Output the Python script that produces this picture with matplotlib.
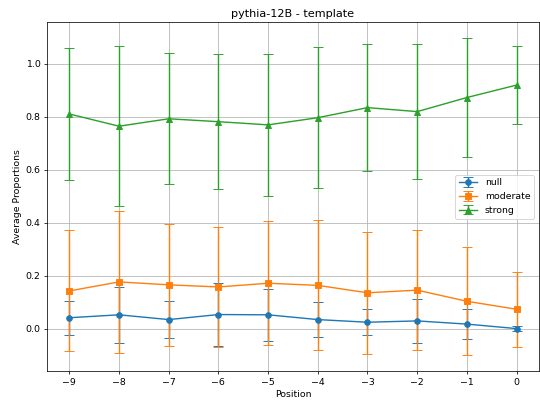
import numpy as np
import matplotlib
matplotlib.use("Agg")
import matplotlib.pyplot as plt

# Positions relative to the target token
positions = [-9, -8, -7, -6, -5, -4, -3, -2, -1, 0]

# Average proportions (means) and error bar half-widths
null_mean = [0.042, 0.053, 0.035, 0.054, 0.053, 0.035, 0.025, 0.030, 0.018, 0.001]
null_err = [0.064, 0.105, 0.069, 0.118, 0.098, 0.066, 0.050, 0.083, 0.056, 0.008]

moderate_mean = [0.143, 0.177, 0.166, 0.158, 0.172, 0.164, 0.136, 0.146, 0.104, 0.074]
moderate_err = [0.228, 0.269, 0.229, 0.226, 0.234, 0.245, 0.231, 0.227, 0.203, 0.142]

strong_mean = [0.810, 0.764, 0.792, 0.781, 0.769, 0.796, 0.834, 0.819, 0.872, 0.919]
strong_err = [0.250, 0.302, 0.247, 0.255, 0.269, 0.266, 0.238, 0.255, 0.224, 0.148]

series = [
    ("null", null_mean, null_err, "o"),
    ("moderate", moderate_mean, moderate_err, "s"),
    ("strong", strong_mean, strong_err, "^"),
]

fig, ax = plt.subplots(figsize=(8, 6), dpi=67.5)

for label, mean, err, marker in series:
    ax.errorbar(positions, mean, yerr=err, marker=marker, capsize=5, label=label)

ax.set_xlabel("Position")
ax.set_ylabel("Average Proportions")
ax.set_title("pythia-12B - template", fontsize=12)
ax.set_xticks(positions)
ax.grid(True)
ax.legend(loc="center right")

fig.subplots_adjust(left=0.087, right=0.998, top=0.945, bottom=0.084)
fig.savefig("out.png", dpi=67.5)
